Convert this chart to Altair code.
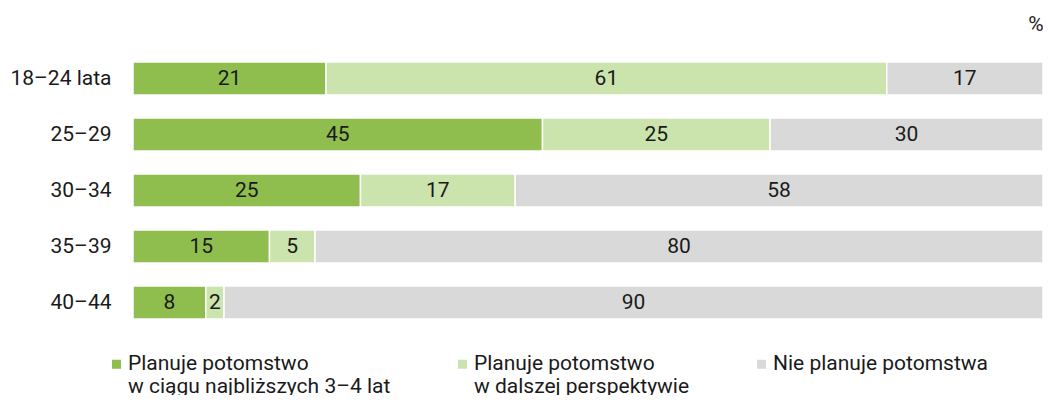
import altair as alt
import pandas as pd

ages = ["18–24 lata", "25–29", "30–34", "35–39", "40–44"]
series = [
    "Planuje potomstwo\nw ciągu najbliższych 3–4 lat",
    "Planuje potomstwo\nw dalszej perspektywie",
    "Nie planuje potomstwa",
]
near = [21, 45, 25, 15, 8]
later = [61, 25, 17, 5, 2]
never = [17, 30, 58, 80, 90]
colors = ["#8FBE4F", "#CBE3AC", "#D9D9D9"]

rows = []
for i, a in enumerate(ages):
    for j, (s, vals) in enumerate(zip(series, [near, later, never])):
        rows.append({"age": a, "series": s, "order": j, "value": vals[i]})
df = pd.DataFrame(rows)

FONT = "Roboto"
FS = 21

base = alt.Chart(df).transform_stack(
    stack="value", groupby=["age"], as_=["v0", "v1"], offset="normalize",
    sort=[alt.SortField("order")]
).transform_calculate(mid="(datum.v0 + datum.v1) / 2")

y = alt.Y("age:N", sort=ages, title=None,
          scale=alt.Scale(paddingInner=0.41, paddingOuter=0.205),
          axis=alt.Axis(ticks=False, domain=False, labelFontSize=FS, labelFont=FONT,
                        labelColor="#1a1a1a", labelPadding=22))

label_expr = ("indexof(datum.label, '\\n') >= 0 ? "
              "split(datum.label, '\\n') : split(datum.label + '\\n ', '\\n')")

bars = base.mark_bar(stroke="white", strokeWidth=1.5).encode(
    x=alt.X("v0:Q", axis=None, scale=alt.Scale(domain=[0, 1], nice=False)),
    x2="v1:Q",
    y=y,
    color=alt.Color("series:N", sort=series,
                    scale=alt.Scale(domain=series, range=colors),
                    legend=alt.Legend(title=None, orient="none", direction="horizontal",
                                      columns=3, columnPadding=61, legendX=-27, legendY=303,
                                      symbolType="square", symbolSize=81, symbolStrokeWidth=0,
                                      labelFontSize=FS, labelFont=FONT, labelColor="#1a1a1a",
                                      labelOffset=1, padding=0, labelBaseline="middle",
                                      labelExpr=label_expr,
                                      labelLimit=400)),
)

labels = base.mark_text(fontSize=FS, font=FONT, color="#1a1a1a").encode(
    x=alt.X("mid:Q", scale=alt.Scale(domain=[0, 1], nice=False)),
    y=alt.Y("age:N", sort=ages),
    text="value:Q",
)

chart = alt.layer(bars, labels).properties(
    width=910, height=280,
    padding={"left": 125, "top": 42.5, "right": 0, "bottom": 64},
    autosize=alt.AutoSizeParams(type="none"),
    title=alt.TitleParams("%", anchor="end", fontSize=FS, font=FONT, fontWeight="normal",
                          color="#1a1a1a", offset=16, dx=0),
).configure_view(stroke=None)

chart.save("out.html", embed_options={"renderer": "svg", "actions": False})
